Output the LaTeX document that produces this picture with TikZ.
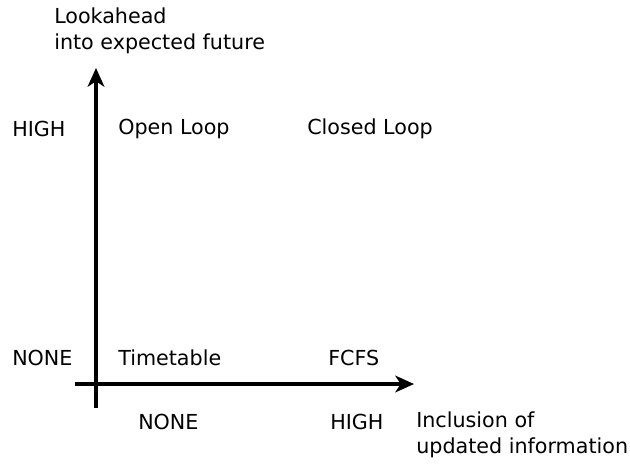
\documentclass[tikz,border=0pt]{standalone}
\usepackage{fontspec}
\setmainfont{DejaVu Sans}
\usetikzlibrary{arrows.meta}
\begin{document}
\begin{tikzpicture}[x=0.75pt,y=-0.75pt,
  lbl/.style={anchor=west,inner sep=0pt,font=\fontsize{15.5}{19.5}\selectfont,align=left},
  axis/.style={line width=2.4pt,-{Stealth[length=14pt,width=12.5pt,inset=4pt]}}]
\useasboundingbox (0,0) rectangle (630,464);
\coordinate (yb) at (96,408);
\coordinate (yt) at (96,68);
\coordinate (xl) at (75,384);
\coordinate (xr) at (414,384);
\draw[axis] (yb) -- (yt);
\draw[axis] (xl) -- (xr);
\node[lbl] (ylab) at (54,31) {Lookahead\\into expected future};
\node[lbl] (yhigh) at (12,129) {HIGH};
\node[lbl] (open) at (118,129) {Open Loop};
\node[lbl] (closed) at (307,129) {Closed Loop};
\node[lbl] (ynone) at (12,358) {NONE};
\node[lbl] (time) at (118,358) {Timetable};
\node[lbl] (fcfs) at (328,358) {FCFS};
\node[lbl] (xnone) at (138,422) {NONE};
\node[lbl] (xhigh) at (330,422) {HIGH};
\node[lbl] (xlab) at (416,435) {Inclusion of\\updated information};
\end{tikzpicture}
\end{document}
